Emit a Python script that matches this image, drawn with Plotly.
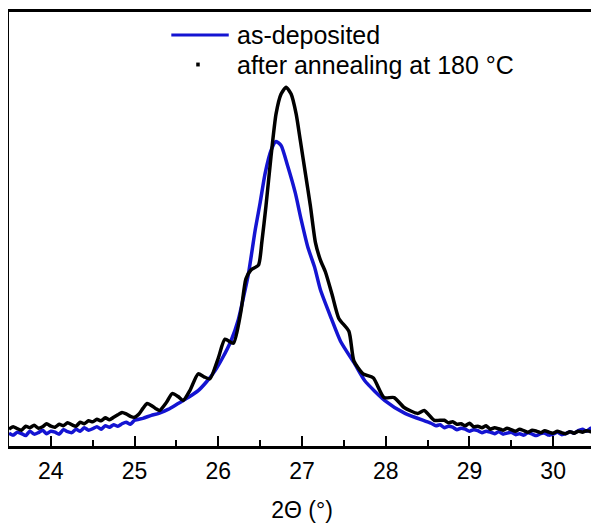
import plotly.graph_objects as go

# 2-theta positions (deg) and intensities (arb. units)
x_asdep = [23.50, 23.55, 23.60, 23.65, 23.70, 23.75, 23.80, 23.85, 23.90, 23.95,
           24.00, 24.05, 24.10, 24.15, 24.20, 24.25, 24.30, 24.35, 24.40, 24.45,
           24.50, 24.55, 24.60, 24.65, 24.70, 24.75, 24.80, 24.85, 24.90, 24.95,
           25.00, 25.10, 25.20, 25.29, 25.40, 25.52, 25.64, 25.76, 25.86, 25.96,
           26.05, 26.15, 26.24, 26.30, 26.36, 26.44, 26.50, 26.56, 26.63, 26.69,
           26.75, 26.83, 26.92, 26.99, 27.07, 27.15, 27.22, 27.35, 27.46, 27.63,
           27.75, 27.99, 28.23, 28.54, 28.60, 28.65, 28.70, 28.75, 28.80, 28.85,
           28.90, 28.95, 29.00, 29.05, 29.10, 29.15, 29.20, 29.25, 29.30, 29.35,
           29.40, 29.45, 29.50, 29.55, 29.60, 29.65, 29.70, 29.75, 29.80, 29.85,
           29.90, 29.95, 30.00, 30.05, 30.10, 30.15, 30.20, 30.25, 30.30, 30.35,
           30.40, 30.45, 30.50]
y_asdep = [130, 110, 140, 125, 105, 150, 120, 135, 160, 125,
           150, 140, 120, 165, 145, 135, 170, 150, 185, 160,
           175, 195, 170, 205, 190, 215, 200, 225, 240, 220,
           260, 280, 310, 330, 370, 430, 490, 560, 650, 760,
           890, 1060, 1280, 1500, 1740, 2180, 2460, 2760, 2990, 3080,
           3040, 2830, 2560, 2290, 2010, 1810, 1580, 1290, 1060, 830,
           660, 460, 330, 230, 205, 215, 185, 200, 190, 165,
           180, 170, 150, 165, 155, 135, 150, 140, 125, 145,
           120, 130, 140, 115, 125, 110, 135, 120, 105, 125,
           130, 110, 120, 140, 115, 125, 145, 130, 155, 170,
           150, 180, 175]

x_annealed = [23.50, 23.55, 23.60, 23.65, 23.70, 23.75, 23.80, 23.85, 23.90, 23.95,
              24.00, 24.05, 24.10, 24.15, 24.20, 24.25, 24.30, 24.35, 24.40, 24.45,
              24.50, 24.55, 24.60, 24.65, 24.70, 24.75, 24.80, 24.85, 24.90, 24.95,
              25.00, 25.05, 25.10, 25.15, 25.20, 25.25, 25.30, 25.38, 25.45, 25.52,
              25.58, 25.66, 25.76, 25.83, 25.90, 26.00, 26.08, 26.18, 26.27, 26.33,
              26.39, 26.48, 26.52, 26.57, 26.63, 26.69, 26.75, 26.81, 26.87, 26.93,
              26.98, 27.04, 27.10, 27.16, 27.22, 27.28, 27.36, 27.44, 27.56, 27.62,
              27.73, 27.85, 27.98, 28.10, 28.22, 28.38, 28.46, 28.58, 28.70, 28.75,
              28.80, 28.85, 28.90, 28.95, 29.00, 29.05, 29.10, 29.15, 29.20, 29.25,
              29.30, 29.35, 29.40, 29.45, 29.50, 29.55, 29.60, 29.65, 29.70, 29.75,
              29.80, 29.85, 29.90, 29.95, 30.00, 30.05, 30.10, 30.15, 30.20, 30.25,
              30.30, 30.35, 30.40, 30.45, 30.50]
y_annealed = [170, 195, 175, 160, 200, 185, 210, 180, 195, 225,
              200, 190, 220, 205, 235, 215, 200, 240, 225, 255,
              245, 270, 255, 285, 265, 290, 315, 340, 325, 300,
              290, 320, 380, 430, 410, 380, 360, 440, 530, 500,
              460, 560, 730, 700, 680, 890, 1080, 1040, 1360, 1690,
              1780, 1830, 2060, 2430, 2930, 3360, 3560, 3630, 3560, 3360,
              3090, 2760, 2430, 2060, 1880, 1760, 1530, 1290, 1160, 860,
              730, 690, 490, 490, 390, 330, 360, 260, 260, 235,
              245, 220, 225, 205, 230, 195, 200, 185, 205, 170,
              185, 175, 160, 180, 165, 150, 170, 155, 140, 160,
              150, 135, 155, 140, 130, 150, 135, 125, 145, 130,
              150, 140, 155, 145, 160]

x_ticks = [24, 25, 26, 27, 28, 29, 30]
name_asdep = "as-deposited"
name_annealed = "after annealing at 180 °C"

blue = "#1414d2"

fig = go.Figure()
fig.add_trace(go.Scatter(x=x_asdep, y=y_asdep, mode="lines", name=name_asdep,
                         line=dict(color=blue, width=3.5, shape="spline", smoothing=0.6),
                         showlegend=False))
fig.add_trace(go.Scatter(x=x_annealed, y=y_annealed, mode="lines", name=name_annealed,
                         line=dict(color="black", width=3.5, shape="spline", smoothing=0.6),
                         showlegend=False))

# legend drawn by hand (long line sample and a single dot, as in the original)
legend_font = dict(family="Liberation Sans, Arial, sans-serif", size=25, color="black")
annotations = [
    dict(xref="paper", yref="paper", x=0.386, y=0.947, xanchor="left", yanchor="middle",
         text=name_asdep, showarrow=False, font=legend_font),
    dict(xref="paper", yref="paper", x=0.386, y=0.879, xanchor="left", yanchor="middle",
         text=name_annealed, showarrow=False, font=legend_font),
]
shapes = [
    dict(type="line", xref="paper", yref="paper", x0=0.277, x1=0.375, y0=0.947, y1=0.947,
         line=dict(color=blue, width=3)),
    dict(type="rect", xref="paper", yref="paper", x0=0.3195, x1=0.3255, y0=0.8745, y1=0.8835,
         line=dict(width=0), fillcolor="black"),
]

fig.update_layout(
    width=591, height=517,
    margin=dict(l=1, r=1, t=1, b=79),
    paper_bgcolor="white", plot_bgcolor="white",
    font=dict(family="Liberation Sans, Arial, sans-serif", color="black"),
    showlegend=False,
    annotations=annotations,
    shapes=shapes,
    xaxis=dict(range=[23.5, 30.5], tickvals=x_ticks, ticktext=[str(t) for t in x_ticks],
               ticks="inside", ticklen=10, tickwidth=2, tickcolor="black",
               ticklabelstandoff=2,
               minor=dict(ticks="inside", ticklen=6, tickwidth=2, dtick=0.5,
                          tick0=23.5, tickcolor="black"),
               showline=True, linewidth=3, linecolor="black", mirror=True,
               showgrid=False, zeroline=False,
               tickfont=dict(size=23),
               title=dict(text="2Θ (°)", font=dict(size=23), standoff=20)),
    yaxis=dict(range=[0, 4390], showticklabels=False, ticks="",
               showline=True, linewidth=3, linecolor="black", mirror=True,
               showgrid=False, zeroline=False),
)

fig.write_html("out.html")
